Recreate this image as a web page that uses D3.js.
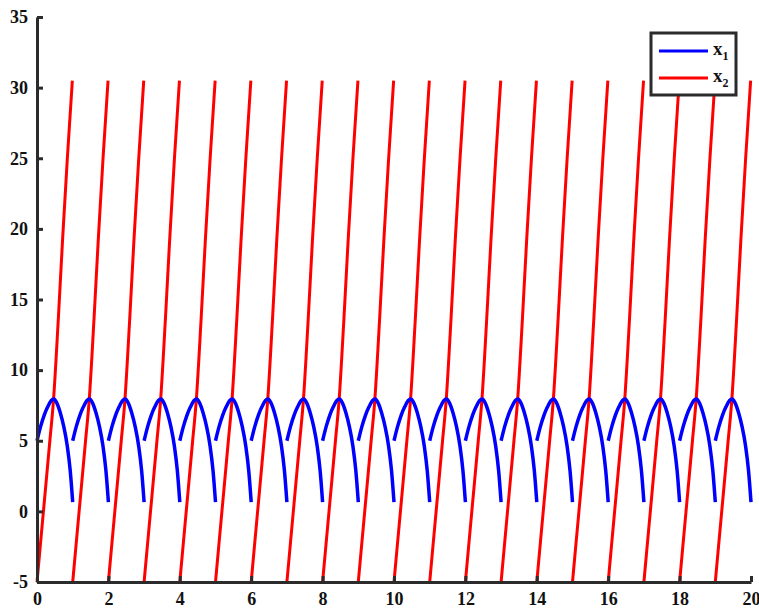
<!DOCTYPE html>
<html>
<head>
<meta charset="utf-8">
<script src="https://cdn.jsdelivr.net/npm/d3@7"></script>
<style>
  body { margin: 0; background: #fff; }
  svg text { font-family: "Liberation Serif", "Times New Roman", serif; font-weight: bold; fill: #111; }
</style>
</head>
<body>
<div class="chart"></div>
<script>
// chart size
var svgWidth = 759;
var svgHeight = 609;

// plot area in pixels
var margin = { top: 17, right: 8, bottom: 27, left: 37 };
var chartWidth = svgWidth - margin.left - margin.right;
var chartHeight = svgHeight - margin.top - margin.bottom;

// tick values
var xTicks = [0, 2, 4, 6, 8, 10, 12, 14, 16, 18, 20];
var yTicks = [-5, 0, 5, 10, 15, 20, 25, 30, 35];

// each cycle restarts at these times
var cycleStarts = [0, 1, 2, 3, 4, 5, 6, 7, 8, 9, 10, 11, 12, 13, 14, 15, 16, 17, 18, 19];

// x1 over one cycle
var x1Phase = [0, 0.1, 0.2, 0.3, 0.4, 0.47, 0.55, 0.65, 0.75, 0.85, 0.93, 1.0];
var x1Values = [5, 6.0, 6.8, 7.4, 7.85, 7.95, 7.7, 7.0, 6.0, 4.6, 2.9, 0.66];

// x2 over one cycle
var x2Phase = [0, 0.18, 0.36, 0.46, 0.59, 0.72, 0.85, 0.99];
var x2Values = [-5, 0, 5, 7.8, 13.3, 19.4, 25, 30.5];

var seriesNames = ["x1", "x2"];
var seriesColors = ["#0000ff", "#ff0000"];

var svg = d3.select(".chart")
  .append("svg")
  .attr("width", svgWidth)
  .attr("height", svgHeight);

var chartGroup = svg.append("g")
  .attr("transform", `translate(${margin.left}, ${margin.top})`);

var xLinearScale = d3.scaleLinear().domain([0, 20]).range([0, chartWidth]);
var yLinearScale = d3.scaleLinear().domain([-5, 35]).range([chartHeight, 0]);

// build one path per cycle
function cycles(phase, values) {
  return cycleStarts.map(function(s) {
    return phase.map((p, i) => ({ t: s + p, v: values[i] }));
  });
}

var line = d3.line()
  .x(d => xLinearScale(d.t))
  .y(d => yLinearScale(d.v))
  .curve(d3.curveMonotoneX);

chartGroup.selectAll(".x2line")
  .data(cycles(x2Phase, x2Values))
  .enter()
  .append("path")
  .attr("class", "x2line")
  .attr("d", line)
  .attr("fill", "none")
  .attr("stroke", seriesColors[1])
  .attr("stroke-width", 3);

chartGroup.selectAll(".x1line")
  .data(cycles(x1Phase, x1Values))
  .enter()
  .append("path")
  .attr("class", "x1line")
  .attr("d", line)
  .attr("fill", "none")
  .attr("stroke", seriesColors[0])
  .attr("stroke-width", 3.5);

// axes, ticks pointing inward, plain hyphen for negatives
var fmt = d => String(d);
var bottomAxis = d3.axisBottom(xLinearScale).tickValues(xTicks).tickFormat(fmt)
  .tickSizeInner(-6).tickSizeOuter(0).tickPadding(12);
var leftAxis = d3.axisLeft(yLinearScale).tickValues(yTicks).tickFormat(fmt)
  .tickSizeInner(-6).tickSizeOuter(0).tickPadding(9);

var xAxis = chartGroup.append("g")
  .attr("transform", `translate(0, ${chartHeight})`)
  .call(bottomAxis);

var yAxis = chartGroup.append("g")
  .call(leftAxis);

[xAxis, yAxis].forEach(function(ax) {
  ax.attr("font-family", "Liberation Serif")
    .attr("font-size", 18)
    .attr("font-weight", "bold");
  ax.select(".domain").attr("stroke", "#2b2b2b").attr("stroke-width", 3);
  ax.selectAll(".tick line").attr("stroke", "#2b2b2b").attr("stroke-width", 3);
  ax.selectAll(".tick text").attr("fill", "#111");
});
xAxis.selectAll(".tick text").attr("dy", "0.6em");

// legend
var legend = svg.append("g").attr("transform", "translate(651, 33)");
legend.append("rect")
  .attr("width", 85)
  .attr("height", 62)
  .attr("fill", "#fff")
  .attr("stroke", "#2b2b2b")
  .attr("stroke-width", 3);

seriesNames.forEach(function(name, i) {
  var y = 18 + i * 27;
  legend.append("line")
    .attr("x1", 8).attr("x2", 57)
    .attr("y1", y).attr("y2", y)
    .attr("stroke", seriesColors[i])
    .attr("stroke-width", 3);
  var t = legend.append("text")
    .attr("x", 62)
    .attr("y", y + 4)
    .attr("font-size", 19);
  t.append("tspan").text(name.charAt(0));
  t.append("tspan").attr("dy", 5).attr("font-size", 12).text(name.slice(1));
});
</script>
</body>
</html>
